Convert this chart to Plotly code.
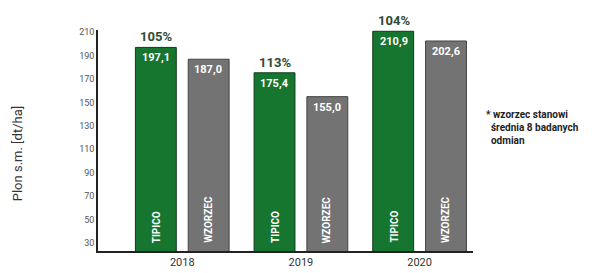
import plotly.graph_objects as go

years = ["2018", "2019", "2020"]
tipico = [197.1, 175.4, 210.9]
wzorzec = [187.0, 155.0, 202.6]
pct = ["105%", "113%", "104%"]
tipico_lbl = ["197,1", "175,4", "210,9"]
wzorzec_lbl = ["187,0", "155,0", "202,6"]
yticks = [30, 50, 70, 90, 110, 130, 150, 170, 190, 210]
YMIN, YMAX = 23, 212

GREEN = "#16752f"
GRAY = "#737373"
FONT = "Roboto, Liberation Sans, Arial, sans-serif"

fig = go.Figure()
fig.add_bar(x=years, y=tipico, name="TIPICO", marker=dict(color=GREEN, line=dict(color="#0d3d1a", width=1)))
fig.add_bar(x=years, y=wzorzec, name="WZORZEC", marker=dict(color=GRAY, line=dict(color="#444444", width=1)))

for i, y in enumerate(years):
    fig.add_annotation(x=i, y=tipico[i], text="<b>" + pct[i] + "</b>", showarrow=False, yanchor="bottom",
                       xshift=-26, yshift=1, font=dict(size=13, color="#2f4a36", family=FONT))
    fig.add_annotation(x=i, y=tipico[i], text="<b>" + tipico_lbl[i] + "</b>", showarrow=False, yanchor="top",
                       xshift=-26, yshift=-2, font=dict(size=11, color="white", family=FONT))
    fig.add_annotation(x=i, y=wzorzec[i], text="<b>" + wzorzec_lbl[i] + "</b>", showarrow=False, yanchor="top",
                       xshift=26, yshift=-2, font=dict(size=11, color="white", family=FONT))
    fig.add_annotation(x=i, y=YMIN, text="<b>TIPICO</b>", textangle=-90, showarrow=False, yanchor="bottom",
                       xshift=-26, yshift=6, font=dict(size=10, color="white", family=FONT))
    fig.add_annotation(x=i, y=YMIN, text="<b>WZORZEC</b>", textangle=-90, showarrow=False, yanchor="bottom",
                       xshift=26, yshift=6, font=dict(size=10, color="white", family=FONT))

fig.add_annotation(xref="paper", yref="paper", x=-0.24, y=0.44, text="Plon s.m. [dt/ha]", textangle=-90,
                   showarrow=False, font=dict(size=13, color="#333333", family=FONT))
fig.add_annotation(xref="paper", yref="paper", x=1.03, y=0.56, xanchor="left", align="left",
                   text="<b>* wzorzec stanowi<br>  średnia 8 badanych<br>  odmian</b>", showarrow=False,
                   font=dict(size=10, color="#222222", family=FONT))

fig.update_layout(
    width=614, height=273, margin=dict(l=90, r=149, t=22, b=12),
    plot_bgcolor="white", paper_bgcolor="white", showlegend=False,
    barmode="group", bargap=0.11, bargroupgap=0.226,
    font=dict(family=FONT),
    xaxis=dict(range=[-0.71, 2.45], showgrid=False, showline=True, linecolor="#222222", linewidth=1.5,
               ticks="", tickfont=dict(size=11, color="#333333")),
    yaxis=dict(range=[YMIN, YMAX], tickvals=yticks, showgrid=False, showline=True, linecolor="#222222",
               linewidth=1.5, ticks="", zeroline=False, tickfont=dict(size=9, color="#555555")),
)
fig.write_html("out.html")
